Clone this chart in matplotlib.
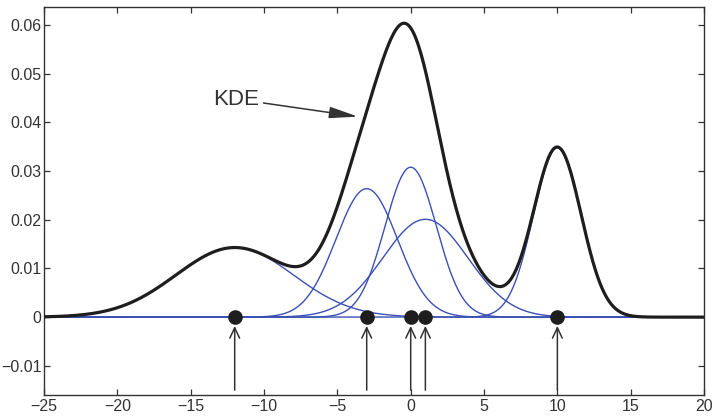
import numpy as np
import matplotlib.pyplot as plt
from matplotlib.ticker import FuncFormatter

BLUE  = '#3a50b4'
BLACK = '#1e1e1e'
GREY  = '#333333'

plt.rcParams['font.family'] = ['Liberation Sans', 'DejaVu Sans']

# data points and their kernels (centre, bandwidth, peak height)
centers    = [-12, -3, 0, 1, 10]
bandwidths = [4.0, 2.1, 1.75, 2.9, 1.62]
peaks      = [0.0143, 0.0264, 0.0308, 0.0201, 0.0348]

xticks = [-25, -20, -15, -10, -5, 0, 5, 10, 15, 20]
yticks = [-0.01, 0, 0.01, 0.02, 0.03, 0.04, 0.05, 0.06]

x = np.linspace(-25, 20, 1200)
kernels = [h * np.exp(-(x - c)**2 / (2 * s**2)) for c, h, s in zip(centers, peaks, bandwidths)]
kde = np.sum(kernels, axis=0)

fig = plt.figure(figsize=(7.16, 4.18), dpi=100)
ax = fig.add_axes([0.0615, 0.055, 0.9218, 0.928])

for k in kernels:
    ax.plot(x, k, color=BLUE, linewidth=1.0, zorder=2)
ax.plot(x, kde, color=BLACK, linewidth=2.3, zorder=3)

ax.plot(centers, np.zeros(len(centers)), 'o', color=BLACK, markersize=9.5, zorder=4)

for c in centers:
    ax.annotate('', xy=(c, -0.0018), xytext=(c, -0.015),
                arrowprops=dict(arrowstyle='->,head_length=0.75,head_width=0.35',
                                color=GREY, linewidth=1.1, shrinkA=0, shrinkB=0))

ax.annotate('KDE', xy=(-3.6, 0.0412), xytext=(-13.45, 0.0448), fontsize=16,
            color=GREY, ha='left', va='center',
            arrowprops=dict(arrowstyle='-|>,head_length=1.1,head_width=0.22',
                            color=GREY, linewidth=1.1, shrinkA=1, shrinkB=0))

ax.set_xlim(-25, 20)
ax.set_ylim(-0.016, 0.0637)
ax.set_xticks(xticks)
ax.set_yticks(yticks)
fmt = FuncFormatter(lambda v, pos: ('%g' % round(v, 4)).replace('-', '\u2212'))
ax.xaxis.set_major_formatter(fmt)
ax.yaxis.set_major_formatter(fmt)
ax.tick_params(direction='in', length=4.5, width=0.9, top=True, right=True,
               labelsize=11.5, labelcolor=GREY, color=GREY, pad=3)
ax.tick_params(axis='y', pad=2)
for sp in ax.spines.values():
    sp.set_color(GREY)
    sp.set_linewidth(1.0)

fig.savefig('out.png', dpi=100)
